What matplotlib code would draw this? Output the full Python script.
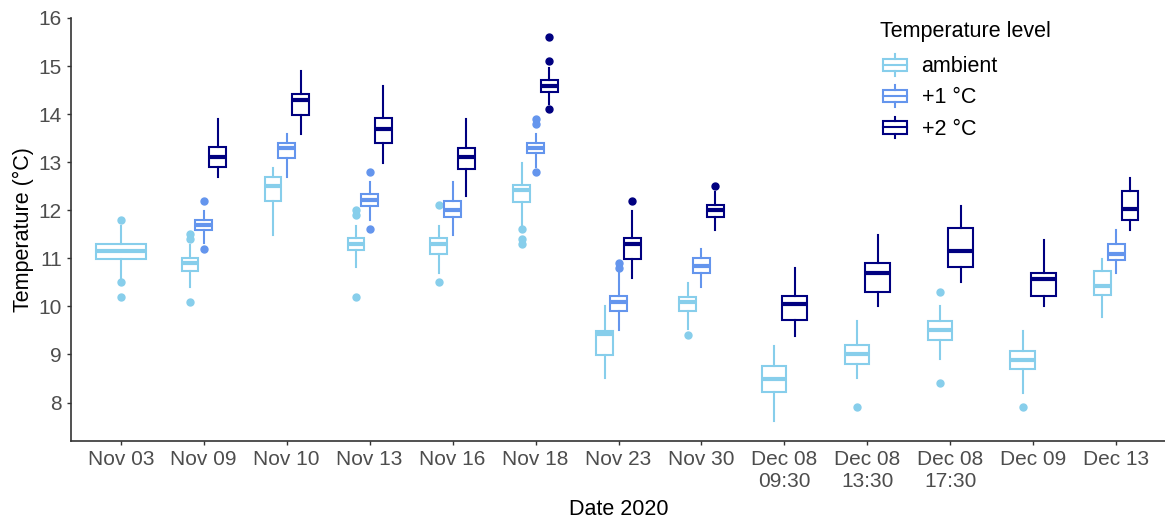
import matplotlib
matplotlib.use("Agg")
import matplotlib.pyplot as plt
from matplotlib.patches import Rectangle
from matplotlib.lines import Line2D
from matplotlib.legend_handler import HandlerBase

plt.rcParams['font.family'] = ['Liberation Sans', 'DejaVu Sans']

dates = ["Nov 03", "Nov 09", "Nov 10", "Nov 13", "Nov 16", "Nov 18", "Nov 23", "Nov 30",
         "Dec 08\n09:30", "Dec 08\n13:30", "Dec 08\n17:30", "Dec 09", "Dec 13"]

levels = ["ambient", "+1 °C", "+2 °C"]
colors = ["#87CEEB", "#6495ED", "#000080"]

# ambient
amb_lo = [10.59, 10.40, 11.49, 10.81, 10.69, 11.68, 8.51, 9.52, 7.61, 8.51, 8.91, 8.20, 9.79]
amb_q1 = [10.99, 10.74, 12.19, 11.17, 11.09, 12.17, 8.99, 9.90, 8.22, 8.80, 9.30, 8.70, 10.24]
amb_med = [11.15, 10.90, 12.50, 11.30, 11.30, 12.42, 9.43, 10.10, 8.50, 9.00, 9.50, 8.88, 10.42]
amb_q3 = [11.30, 11.00, 12.70, 11.42, 11.42, 12.52, 9.49, 10.20, 8.75, 9.20, 9.69, 9.07, 10.73]
amb_hi = [11.68, 11.28, 12.88, 11.68, 11.68, 12.98, 10.00, 10.49, 9.18, 9.69, 10.00, 9.49, 10.99]
amb_out = [[11.8, 10.5, 10.2], [11.5, 11.4, 10.1], [], [12.0, 11.9, 10.2], [12.1, 10.5],
           [11.6, 11.4, 11.3], [], [9.4], [], [7.9], [10.3, 8.4], [7.9], []]

# +1 °C
p1_lo = [None, 11.32, 12.70, 11.80, 11.49, 12.91, 9.50, 10.40, None, None, None, None, 10.69]
p1_q1 = [None, 11.59, 13.09, 12.09, 11.86, 13.19, 9.90, 10.69, None, None, None, None, 10.97]
p1_med = [None, 11.69, 13.30, 12.21, 12.01, 13.30, 10.10, 10.85, None, None, None, None, 11.10]
p1_q3 = [None, 11.80, 13.39, 12.33, 12.20, 13.39, 10.22, 11.00, None, None, None, None, 11.29]
p1_hi = [None, 11.99, 13.58, 12.59, 12.59, 13.58, 10.69, 11.19, None, None, None, None, 11.58]
p1_out = [[], [12.2, 11.2], [], [12.8, 11.6], [], [13.9, 13.8, 12.8], [10.9, 10.8], [],
          [], [], [], [], []]

# +2 °C
p2_lo = [None, 12.70, 13.59, 12.99, 12.29, 14.21, 10.60, 11.59, 9.39, 10.00, 10.50, 10.00, 11.59]
p2_q1 = [None, 12.89, 13.99, 13.39, 12.86, 14.47, 10.99, 11.86, 9.71, 10.31, 10.82, 10.22, 11.79]
p2_med = [None, 13.10, 14.30, 13.69, 13.10, 14.59, 11.30, 12.00, 10.06, 10.69, 11.15, 10.56, 12.03]
p2_q3 = [None, 13.32, 14.42, 13.92, 13.30, 14.71, 11.42, 12.10, 10.21, 10.90, 11.64, 10.69, 12.40]
p2_hi = [None, 13.89, 14.89, 14.59, 13.89, 14.97, 11.99, 12.38, 10.79, 11.48, 12.09, 11.39, 12.68]
p2_out = [[], [], [], [], [], [15.6, 15.1, 14.1], [12.2], [12.5], [], [], [], [], []]

series = [
    (amb_lo, amb_q1, amb_med, amb_q3, amb_hi, amb_out),
    (p1_lo, p1_q1, p1_med, p1_q3, p1_hi, p1_out),
    (p2_lo, p2_q1, p2_med, p2_q3, p2_hi, p2_out),
]

box_w = 0.6
dodge = 0.5
lw = 1.5

fig = plt.figure(figsize=(11.65, 5.2), dpi=100)
ax = fig.add_axes([71 / 1165, 1 - 441 / 520, 1095 / 1165, 423 / 520])

for i in range(len(dates)):
    present = [s for s in range(3) if series[s][2][i] is not None]
    n = len(present)
    for k, s in enumerate(present):
        lo, q1, med, q3, hi, out = series[s]
        pos = i + (k - (n - 1) / 2) * dodge / n
        stats = [dict(whislo=lo[i], q1=q1[i], med=med[i], q3=q3[i], whishi=hi[i], fliers=out[i])]
        c = colors[s]
        ax.bxp(stats, positions=[pos], widths=box_w / n, showcaps=False, patch_artist=True,
               boxprops=dict(facecolor="white", edgecolor=c, linewidth=lw),
               whiskerprops=dict(color=c, linewidth=lw),
               medianprops=dict(color=c, linewidth=lw * 2, solid_capstyle="butt"),
               flierprops=dict(marker="o", markerfacecolor=c, markeredgecolor=c, markersize=5),
               manage_ticks=False)


class BoxKey(HandlerBase):
    def create_artists(self, legend, orig_handle, xdescent, ydescent, width, height, fontsize, trans):
        c = orig_handle.get_color()
        x0, y0 = -xdescent + 2.2, -ydescent
        w, h = width, height
        rect = Rectangle((x0, y0 + 0.2 * h), w, 0.6 * h,
                         facecolor="white", edgecolor=c, linewidth=lw, transform=trans)
        wl = Line2D([x0 + w / 2] * 2, [y0, y0 + 0.2 * h], color=c, linewidth=lw, transform=trans)
        wh = Line2D([x0 + w / 2] * 2, [y0 + 0.8 * h, y0 + h], color=c, linewidth=lw, transform=trans)
        md = Line2D([x0, x0 + w], [y0 + h / 2] * 2, color=c, linewidth=lw, transform=trans)
        return [rect, wl, wh, md]


handles = [Line2D([], [], color=c) for c in colors]
leg = ax.legend(handles, levels, title="Temperature level", loc="upper left",
                bbox_to_anchor=(0.729, 1.019), frameon=False, fontsize=15.5, title_fontsize=15.5,
                handler_map={Line2D: BoxKey()}, handlelength=1.1, handleheight=1.15,
                labelspacing=0.38, handletextpad=0.83, borderpad=0.0, alignment="left")
leg._legend_box.sep = 9

ax.set_xlim(-0.6, 12.6)
ax.set_ylim(7.2, 16.0)
ax.set_xticks(range(len(dates)))
ax.set_xticklabels(dates)
ax.set_yticks(range(8, 17))
ax.tick_params(labelsize=15, colors="#4D4D4D", length=3, width=1, pad=3.5)
ax.tick_params(axis="both", color="#333333")
for side in ["top", "right"]:
    ax.spines[side].set_visible(False)
for side in ["left", "bottom"]:
    ax.spines[side].set_linewidth(1.2)
    ax.spines[side].set_color("#333333")

ax.set_xlabel("Date 2020", fontsize=15.5, labelpad=6)
ax.set_ylabel("Temperature (°C)", fontsize=15.5, labelpad=3)

fig.savefig("out.png", dpi=100)
